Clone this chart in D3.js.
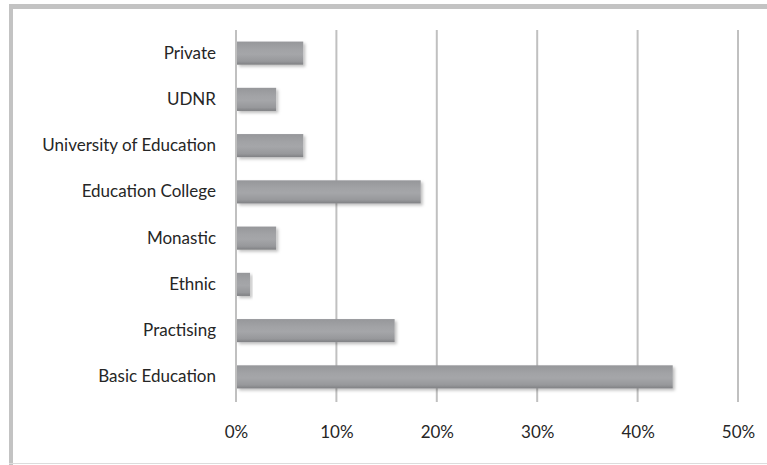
<!DOCTYPE html>
<html>
<head>
<meta charset="utf-8">
<script src="https://cdn.jsdelivr.net/npm/d3@7"></script>
<style>
  html, body { margin: 0; padding: 0; background: #ffffff; }
  svg { display: block; }
  text { font-family: Lato, "Open Sans", "Liberation Sans", sans-serif; fill: #262626; }
</style>
</head>
<body>
<svg id="chart" width="767" height="465"></svg>
<script>
// Share of teachers by training institution
const categories = [
  "Private",
  "UDNR",
  "University of Education",
  "Education College",
  "Monastic",
  "Ethnic",
  "Practising",
  "Basic Education"
];
const values = [6.7, 4.0, 6.7, 18.4, 4.0, 1.4, 15.8, 43.5];
const tickValues = [0, 10, 20, 30, 40, 50];

const data = categories.map((c, i) => ({ category: c, value: values[i] }));

const svg = d3.select("#chart");
const W = 767, H = 465;

// Frame around the plot
svg.append("rect").attr("x", 0).attr("y", 0).attr("width", W).attr("height", H).attr("fill", "#ffffff");
svg.append("rect").attr("x", 9).attr("y", 4).attr("width", W - 9).attr("height", 5).attr("fill", "#c3c3c3");
svg.append("rect").attr("x", 9).attr("y", 4).attr("width", 4).attr("height", H - 4).attr("fill", "#c3c3c3");
svg.append("rect").attr("x", 9).attr("y", 463).attr("width", W - 9).attr("height", 1).attr("fill", "#dcdcdc");

const x = d3.scaleLinear().domain([0, 50]).range([236, 738]);
const y = d3.scaleBand().domain(categories).range([30, 400]).paddingInner(0.5).paddingOuter(0.25);

const defs = svg.append("defs");
const grad = defs.append("linearGradient").attr("id", "barGrad")
  .attr("x1", 0).attr("y1", 0).attr("x2", 0).attr("y2", 1);
[["0%", "#96979a"], ["35%", "#a2a3a6"], ["55%", "#a5a6a9"], ["85%", "#97989b"], ["100%", "#7f8083"]]
  .forEach(([o, c]) => grad.append("stop").attr("offset", o).attr("stop-color", c));

const shadow = defs.append("filter").attr("id", "barShadow")
  .attr("x", "-10%").attr("y", "-30%").attr("width", "130%").attr("height", "180%");
shadow.append("feDropShadow").attr("dx", 2).attr("dy", 2).attr("stdDeviation", 1.8)
  .attr("flood-color", "#000").attr("flood-opacity", 0.25);

// Vertical gridlines
svg.append("g").selectAll("line").data(tickValues).join("line")
  .attr("x1", d => x(d)).attr("x2", d => x(d))
  .attr("y1", 30).attr("y2", 402)
  .attr("stroke", "#c0c0c0").attr("stroke-width", 2);

// Bars
svg.append("g").selectAll("rect").data(data).join("rect")
  .attr("x", x(0) + 1)
  .attr("y", d => y(d.category))
  .attr("width", d => x(d.value) - x(0) - 1)
  .attr("height", y.bandwidth())
  .attr("fill", "url(#barGrad)")
  .attr("filter", "url(#barShadow)");

// Category labels
const yAxis = d3.axisLeft(y).tickSize(0).tickPadding(0);
const gy = svg.append("g").attr("transform", "translate(216,0)").call(yAxis);
gy.select(".domain").remove();
gy.selectAll("text").attr("font-size", 17).style("font-family", "Lato, 'Open Sans', sans-serif").attr("fill", "#262626");

// Percentage tick labels
const xAxis = d3.axisBottom(x).tickValues(tickValues).tickSize(0).tickPadding(0).tickFormat(d => d + "%");
const gx = svg.append("g").attr("transform", "translate(0,400)").call(xAxis);
gx.select(".domain").remove();
gx.selectAll("text").attr("font-size", 17).attr("dy", "0.71em").attr("y", 26)
  .style("font-family", "Lato, 'Open Sans', sans-serif").attr("fill", "#262626");
</script>
</body>
</html>
